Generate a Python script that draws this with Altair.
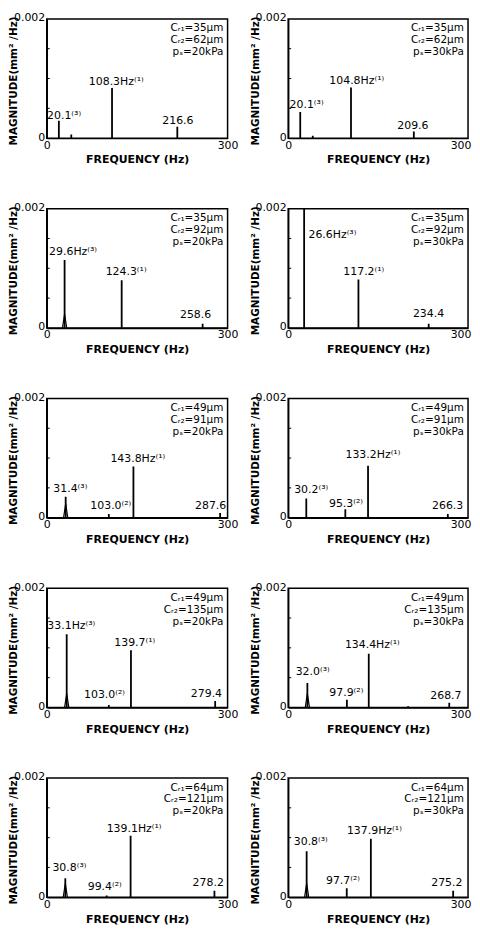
import altair as alt
import pandas as pd

FONT = "DejaVu Sans"

# peak frequencies (Hz) and magnitudes (mm^2/Hz) for each of the 10 panels
PEAK_FREQ = [
    [20.1, 40.7, 108.3, 216.6],
    [20.1, 41.0, 104.8, 209.6],
    [29.6, 124.3, 258.6],
    [26.6, 117.2, 234.4],
    [31.4, 103.0, 143.8, 287.6],
    [30.2, 95.3, 133.2, 266.3],
    [33.1, 103.0, 139.7, 279.4],
    [32.0, 97.9, 134.4, 200.0, 268.7],
    [30.8, 99.4, 139.1, 278.2],
    [30.8, 97.7, 137.9, 275.2],
]
PEAK_MAG = [
    [0.00029, 0.00006, 0.00084, 0.00019],
    [0.00044, 0.00004, 0.00085, 0.00011],
    [0.00114, 0.00080, 0.00007],
    [0.00200, 0.00081, 0.00007],
    [0.00035, 0.00006, 0.00086, 0.00008],
    [0.00032, 0.00014, 0.00087, 0.00006],
    [0.00123, 0.00004, 0.00096, 0.00011],
    [0.00041, 0.00013, 0.00090, 0.00002, 0.00008],
    [0.00032, 0.00003, 0.00103, 0.00011],
    [0.00077, 0.00015, 0.00098, 0.00011],
]
# peaks that show a broadened base in the spectrum
BROAD_FREQ = [[], [], [29.6], [], [31.4], [], [33.1], [32.0], [30.8], [30.8]]
LABEL_TEXT = [
    ["20.1⁽³⁾", "108.3Hz⁽¹⁾", "216.6"],
    ["20.1⁽³⁾", "104.8Hz⁽¹⁾", "209.6"],
    ["29.6Hz⁽³⁾", "124.3⁽¹⁾", "258.6"],
    ["26.6Hz⁽³⁾", "117.2⁽¹⁾", "234.4"],
    ["31.4⁽³⁾", "103.0⁽²⁾", "143.8Hz⁽¹⁾", "287.6"],
    ["30.2⁽³⁾", "95.3⁽²⁾", "133.2Hz⁽¹⁾", "266.3"],
    ["33.1Hz⁽³⁾", "103.0⁽²⁾", "139.7⁽¹⁾", "279.4"],
    ["32.0⁽³⁾", "97.9⁽²⁾", "134.4Hz⁽¹⁾", "268.7"],
    ["30.8⁽³⁾", "99.4⁽²⁾", "139.1Hz⁽¹⁾", "278.2"],
    ["30.8⁽³⁾", "97.7⁽²⁾", "137.9Hz⁽¹⁾", "275.2"],
]
LABEL_X = [
    [0.5, 69.8, 191.7],
    [2.3, 68.6, 182.0],
    [3.9, 97.7, 221.0],
    [33.8, 92.0, 208.0],
    [10.9, 72.3, 105.6, 246.0],
    [10.0, 68.0, 95.6, 240.0],
    [1.0, 61.8, 112.0, 239.0],
    [12.5, 68.6, 94.6, 237.0],
    [9.4, 68.0, 99.4, 242.0],
    [9.3, 63.0, 98.0, 238.6],
]
LABEL_Y = [
    [0.00032, 0.00089, 0.00023],
    [0.00050, 0.00091, 0.00016],
    [0.00122, 0.00089, 0.00017],
    [0.00150, 0.00089, 0.00019],
    [0.00043, 0.00014, 0.00093, 0.00014],
    [0.00042, 0.00018, 0.00100, 0.00014],
    [0.00132, 0.000155, 0.00103, 0.00017],
    [0.00054, 0.00019, 0.00100, 0.00015],
    [0.00044, 0.00012, 0.00110, 0.00018],
    [0.00087, 0.00023, 0.00106, 0.00018],
]
CR1 = [35, 35, 35, 35, 49, 49, 49, 49, 64, 64]
CR2 = [62, 62, 92, 92, 91, 91, 135, 135, 121, 121]
PS = [20, 30, 20, 30, 20, 30, 20, 30, 20, 30]
PARAM_X = 293
PARAM_Y = [0.00179, 0.00159, 0.00139]
Y_MINOR = [0.0005, 0.0010, 0.0015]

W_LEFT, W_RIGHT, H = 182, 181, 120


def make_xaxis(right_col):
    kw = dict(
        values=[0, 300], labelFlush=False, tickSize=0, labelPadding=1,
        title="FREQUENCY (Hz)", titlePadding=4, grid=False,
        domainColor="black", domainWidth=1.5,
        labelFont=FONT, titleFont=FONT, labelFontSize=11, titleFontSize=11,
        titleFontWeight="bold", labelColor="black", titleColor="black",
    )
    if right_col:
        kw["labelAlign"] = {"condition": {"test": "datum.value == 0", "value": "center"},
                            "value": "right"}
        kw["labelOffset"] = {"condition": {"test": "datum.value == 0", "value": 0},
                             "value": 3}
    return alt.Axis(**kw)


yaxis = alt.Axis(
    values=[0, 0.002], labelExpr="datum.value == 0 ? '0' : '0.002'",
    tickSize=0, labelPadding=2, labelBaseline="alphabetic", labelOffset=2,
    title="MAGNITUDE(mm² /Hz)", titleX=-33, titleY=H / 2 + 2, titleAngle=270,
    titleAlign="center", titleBaseline="middle", grid=False,
    domainColor="black", domainWidth=1.5,
    labelFont=FONT, titleFont=FONT, labelFontSize=11, titleFontSize=10.5,
    titleFontWeight="bold", labelColor="black", titleColor="black",
)


def panel(i):
    right_col = i % 2 == 1
    peaks = pd.DataFrame({"f": PEAK_FREQ[i], "m": PEAK_MAG[i],
                          "z": [0.0] * len(PEAK_FREQ[i])})
    broad = pd.DataFrame({"f": BROAD_FREQ[i], "m": [0.0] * len(BROAD_FREQ[i])})
    labels = pd.DataFrame({"f": LABEL_X[i], "m": LABEL_Y[i], "t": LABEL_TEXT[i]})
    params = pd.DataFrame({
        "f": [PARAM_X] * 3,
        "m": PARAM_Y,
        "t": [f"Cᵣ₁={CR1[i]}μm", f"Cᵣ₂={CR2[i]}μm", f"pₛ={PS[i]}kPa"],
    })
    ticks = pd.DataFrame({"m": Y_MINOR})
    x = alt.X("f:Q", scale=alt.Scale(domain=[0, 300], nice=False, zero=False),
              axis=make_xaxis(right_col))
    y = alt.Y("m:Q", scale=alt.Scale(domain=[0, 0.002], nice=False), axis=yaxis)

    rules = alt.Chart(peaks).mark_rule(color="black", strokeWidth=1.8, clip=True).encode(
        x=x, y=y, y2="z:Q")
    tri = alt.Chart(broad).mark_point(
        shape="M-0.3,1L0,-1L0.3,1", size=196, yOffset=-7, filled=False,
        color="black", strokeWidth=1.2, opacity=1
    ).encode(x=x, y=y)
    txt = alt.Chart(labels).mark_text(
        align="left", baseline="alphabetic", font=FONT, fontSize=11, color="black"
    ).encode(x=x, y=y, text="t:N")
    par = alt.Chart(params).mark_text(
        align="right", baseline="alphabetic", font=FONT, fontSize=10.5, color="black"
    ).encode(x=x, y=y, text="t:N")
    tk = alt.Chart(ticks).mark_rule(color="black", strokeWidth=1).encode(
        x=alt.value(0), x2=alt.value(3), y=y)
    layers = [rules, txt, par, tk]
    if BROAD_FREQ[i]:
        layers.insert(1, tri)
    return alt.layer(*layers).properties(width=W_RIGHT if right_col else W_LEFT, height=H)


chart = alt.concat(
    *[panel(i) for i in range(10)], columns=2, align="each",
    spacing=alt.RowColnumber(row=35, column=10),
).properties(
    padding={"left": 0, "top": 0, "right": 0, "bottom": 0}
).configure_view(stroke="black", strokeWidth=1.5)

chart.save("out.html", embed_options={"renderer": "svg", "actions": False})
